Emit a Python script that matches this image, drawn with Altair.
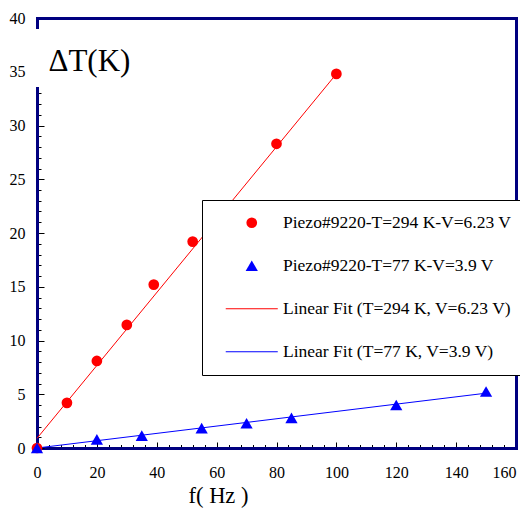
import altair as alt
import pandas as pd

# ---------------- data ----------------
freq_294 = [0, 10, 20, 30, 39, 52, 80, 100]
dT_294 = [0, 4.2, 8.1, 11.45, 15.2, 19.2, 28.3, 34.8]
freq_77 = [0, 20, 35, 55, 70, 85, 120, 150]
dT_77 = [0, 0.8, 1.15, 1.85, 2.3, 2.8, 4.0, 5.25]
fit_294_f = [0, 100]
fit_294_dT = [0.9, 34.8]
fit_77_f = [0, 150]
fit_77_dT = [0, 5.1]

series_names = [
    "Piezo#9220-T=294 K-V=6.23 V",
    "Piezo#9220-T=77 K-V=3.9 V",
    "Linear Fit (T=294 K, V=6.23 V)",
    "Linear Fit (T=77 K, V=3.9 V)",
]
series_colors = ["#ff0000", "#0000ff", "#ff0000", "#0000ff"]
x_ticks = list(range(0, 161, 20))
y_ticks = list(range(0, 41, 5))

# thin filled bar used as the legend symbol of the fit lines
LINE = "M-4.96,-0.1H4.96V0.1H-4.96Z"
NAVY = "#000080"
FONT = "Liberation Serif"

df_294 = pd.DataFrame({"f": freq_294, "dT": dT_294, "series": series_names[0]})
df_77 = pd.DataFrame({"f": freq_77, "dT": dT_77, "series": series_names[1]})
fit_294 = pd.DataFrame({"f": fit_294_f, "dT": fit_294_dT, "series": series_names[2]})
fit_77 = pd.DataFrame({"f": fit_77_f, "dT": fit_77_dT, "series": series_names[3]})

W, H = 479, 430

xscale = alt.Scale(domain=[0, 160], nice=False)
yscale = alt.Scale(domain=[0, 40], nice=False)
fill_scale = alt.Scale(domain=series_names, range=series_colors)
shape_scale = alt.Scale(domain=series_names, range=["circle", "triangle-up", LINE, LINE])
size_scale = alt.Scale(type="ordinal", domain=series_names, range=[115, 150, 110, 110])

leg = alt.Legend(
    title=None, orient="none", legendX=165, legendY=182, padding=14,
    rowPadding=24, symbolOffset=27, labelOffset=22.5, labelFont=FONT,
    labelFontSize=17.5, labelColor="black", labelLimit=500,
    fillColor="white", strokeColor="black", symbolStrokeWidth=0,
    symbolOpacity=1, zindex=2,
)

common_lab = dict(labelFont=FONT, labelFontSize=16, labelColor="black", grid=False,
                  labelFlush=False)

# main axes: labels + titles
x_main = alt.Axis(orient="bottom", values=x_ticks, format="d", labelPadding=16,
                  labelAlign={"condition": {"test": "datum.value >= 160", "value": "right"},
                              "value": "center"},
                  ticks=False, tickSize=0, domain=True, domainColor=NAVY, domainWidth=3,
                  domainCap="square", title="f( Hz )", titleFont=FONT, titleFontSize=22.5,
                  titleFontWeight="normal", titleColor="black", titleX=181, titleY=54,
                  titleAlign="center", titleBaseline="alphabetic", **common_lab)
y_main = alt.Axis(orient="left", values=y_ticks, format="d", labelPadding=12,
                  ticks=False, tickSize=0, domain=True, domainColor=NAVY, domainWidth=3,
                  domainCap="square", domainDash=[360, 61, 100], title="ΔT(K)",
                  titleFont=FONT, titleFontSize=31, titleFontWeight="normal",
                  titleColor="black", titleAngle=0, titleX=11, titleY=43,
                  titleAlign="left", titleBaseline="middle", **common_lab)
# frame (top / right)
x_top = alt.Axis(orient="top", offset=0, labels=False, ticks=False, domain=True,
                 domainColor=NAVY, domainWidth=3, domainCap="square", grid=False, title=None)
y_right = alt.Axis(orient="right", offset=0, labels=False, ticks=False, domain=True,
                   domainColor=NAVY, domainWidth=3, domainCap="square", grid=False, title=None)
# inward major ticks
x_major = alt.Axis(orient="top", offset=-H, labels=False, domain=False, grid=False,
                   title=None, values=x_ticks, tickSize=6, tickColor="black", tickWidth=1)
y_major = alt.Axis(orient="right", offset=-W, labels=False, domain=False, grid=False,
                   title=None, values=[v for v in y_ticks if v <= 30], tickSize=7,
                   tickColor="black", tickWidth=1)
# inward minor ticks
x_minor = alt.Axis(orient="top", offset=-H, labels=False, domain=False, grid=False,
                   title=None, values=[v for v in range(0, 161, 4) if v % 20],
                   tickSize=3.5, tickColor="black", tickWidth=1)
y_minor = alt.Axis(orient="right", offset=-W, labels=False, domain=False, grid=False,
                   title=None, values=[v for v in range(0, 34) if v % 5],
                   tickSize=4, tickColor="black", tickWidth=1)


def pts(df, xa, ya):
    return alt.Chart(df).mark_point(filled=True, opacity=1, strokeWidth=0).encode(
        x=alt.X("f:Q", scale=xscale, axis=xa),
        y=alt.Y("dT:Q", scale=yscale, axis=ya),
        fill=alt.Fill("series:N", scale=fill_scale, legend=leg),
        shape=alt.Shape("series:N", scale=shape_scale, legend=leg),
        size=alt.Size("series:N", scale=size_scale, legend=leg),
    )


def fit(df, color, xa, ya):
    return alt.Chart(df).mark_line(strokeWidth=1, color=color).encode(
        x=alt.X("f:Q", scale=xscale, axis=xa),
        y=alt.Y("dT:Q", scale=yscale, axis=ya),
    )


chart = alt.layer(
    fit(fit_294, series_colors[2], x_major, y_major),
    fit(fit_77, series_colors[3], x_minor, y_minor),
    pts(df_294, x_main, y_main),
    pts(df_77, x_top, y_right),
).resolve_axis(x="independent", y="independent").properties(
    width=W, height=H,
    padding={"left": 29, "top": 10, "right": 4, "bottom": 60},
    autosize=alt.AutoSizeParams(type="none"),
    background="white",
).configure_view(stroke=None)

chart.save("out.html", embed_options={"renderer": "svg", "actions": False})
